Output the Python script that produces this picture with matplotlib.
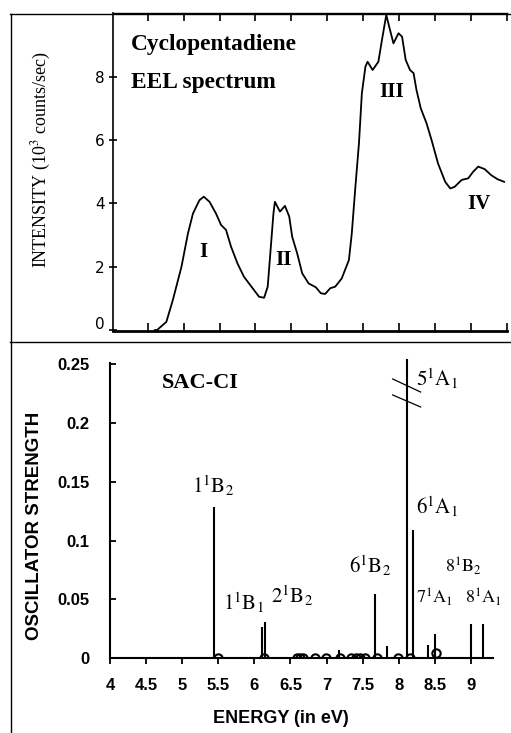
import numpy as np
import matplotlib.pyplot as plt
from matplotlib.lines import Line2D
from matplotlib.transforms import ScaledTranslation

plt.rcParams['mathtext.fontset'] = 'stix'

# %% data
# EEL spectrum (top panel)
eel_energy = [4.60, 4.63, 4.76, 4.85, 4.97, 5.06, 5.13, 5.22, 5.28, 5.36, 5.45, 5.52,
              5.59, 5.66, 5.75, 5.84, 5.96, 6.05, 6.12, 6.17, 6.21, 6.25, 6.27, 6.34,
              6.41, 6.47, 6.51, 6.58, 6.65, 6.74, 6.84, 6.91, 6.97, 7.04, 7.11, 7.20,
              7.30, 7.34, 7.39, 7.44, 7.48, 7.53, 7.56, 7.63, 7.71, 7.76, 7.82, 7.86,
              7.92, 7.99, 8.04, 8.09, 8.15, 8.20, 8.24, 8.30, 8.38, 8.45, 8.54, 8.64,
              8.71, 8.77, 8.87, 8.96, 9.03, 9.10, 9.19, 9.28, 9.37, 9.46]
eel_intensity = [0.0, 0.0, 0.26, 0.95, 2.0, 3.05, 3.68, 4.10, 4.21, 4.05, 3.68, 3.32,
                 3.16, 2.63, 2.10, 1.68, 1.32, 1.05, 1.02, 1.37, 2.53, 3.69, 4.05, 3.74,
                 3.92, 3.58, 2.95, 2.42, 1.79, 1.47, 1.35, 1.16, 1.14, 1.32, 1.37, 1.63,
                 2.21, 3.05, 4.52, 5.90, 7.47, 8.32, 8.47, 8.21, 8.47, 9.16, 9.95, 9.58,
                 9.05, 9.37, 9.26, 8.53, 8.21, 8.11, 7.58, 7.00, 6.53, 6.00, 5.26, 4.68,
                 4.47, 4.52, 4.74, 4.79, 5.00, 5.16, 5.08, 4.89, 4.76, 4.68]
band_names = ['I', 'II', 'III', 'IV']
band_pos = [(5.28, 2.46), (6.39, 2.21), (7.90, 7.52), (9.11, 3.98)]

# SAC-CI oscillator strengths (bottom panel)
stick_energy = [5.444, 6.107, 6.145, 7.173, 7.672, 7.842, 8.110, 8.202, 8.404, 8.507, 9.000, 9.171]
stick_f = [0.129, 0.0266, 0.0309, 0.0074, 0.0544, 0.0105, 0.2545, 0.109, 0.011, 0.0204, 0.029, 0.029]
forbidden_energy = [5.499, 6.131, 6.592, 6.638, 6.675, 6.846, 6.998, 7.192, 7.344, 7.404,
                    7.459, 7.528, 7.704, 7.989, 8.161, 8.520]
forbidden_f = [0, 0, 0, 0, 0, 0, 0, 0, 0, 0, 0, 0, 0, 0, 0, 0.0045]

state_labels = [r'$1^{1}\mathrm{B}_{2}$', r'$1^{1}\mathrm{B}_{1}$', r'$2^{1}\mathrm{B}_{2}$',
                r'$6^{1}\mathrm{B}_{2}$', r'$5^{1}\mathrm{A}_{1}$', r'$6^{1}\mathrm{A}_{1}$',
                r'$8^{1}\mathrm{B}_{2}$', r'$7^{1}\mathrm{A}_{1}$', r'$8^{1}\mathrm{A}_{1}$']
state_pos = [(5.425, 0.1466), (5.854, 0.047), (6.518, 0.053), (7.60, 0.0785), (8.53, 0.238),
             (8.53, 0.1287), (8.89, 0.078), (8.50, 0.0517), (9.17, 0.0517)]
state_size = [15, 15, 15, 15, 15, 15, 13, 13, 13]

# %% figure
W, H = 511, 733
fig = plt.figure(figsize=(W / 100, H / 100), dpi=100)

def box(l, t, r, b):
    return [l / W, 1 - b / H, (r - l) / W, (b - t) / H]

# outer frame lines of the scan
for xs, ys in [([10, 511], [14, 14]), ([10, 511], [342, 342]), ([11, 11], [14, 733])]:
    fig.add_artist(Line2D([x / W for x in xs], [1 - y / H for y in ys],
                          transform=fig.transFigure, color='k', lw=1.0))

# --- top: EEL spectrum
ax = fig.add_axes(box(113, 13.3, 507, 331))
ax.plot(eel_energy, eel_intensity, 'k-', lw=1.3)
ax.set_xlim(4.017, 9.47)
ax.set_ylim(-0.03, 10)
ax.spines['right'].set_visible(False)
ax.spines['bottom'].set_linewidth(2)
ax.spines['left'].set_linewidth(1.2)
ax.spines['top'].set_linewidth(1.0)
ax.set_xticks([5, 6, 7, 8, 9])
ax.set_xticks([4.5, 5.5, 6.5, 7.5, 8.5, 9.5], minor=True)
ax.tick_params(axis='x', which='both', direction='in', top=True, bottom=True,
               length=6, width=1.2, labelbottom=False)
ax.set_yticks([0, 2, 4, 6, 8])
ax.tick_params(axis='y', direction='inout', length=6, width=1.2, labelsize=11, pad=3)
ax.set_ylabel(r'INTENSITY (10$^{3}$ counts/sec)', family='Liberation Serif', fontsize=13)
ax.yaxis.set_label_coords(-0.152, 0.538)
ax.text(4.27, 9.0, 'Cyclopentadiene', family='Liberation Serif', weight='bold',
        fontsize=16.8, va='center')
ax.text(4.27, 7.8, 'EEL spectrum', family='Liberation Serif', weight='bold',
        fontsize=16.8, va='center')
for name, (x, y) in zip(band_names, band_pos):
    ax.text(x, y, name, family='Liberation Serif', weight='bold', fontsize=15,
            ha='center', va='center')

# --- bottom: SAC-CI sticks
bx = fig.add_axes(box(110, 358.4, 493.3, 658.3))
bx.vlines(stick_energy, 0, stick_f, color='k', lw=1.5)
bx.plot(forbidden_energy, forbidden_f, 'o', mfc='none', mec='k', ms=6, mew=1.5)
bx.set_xlim(4, 9.31)
bx.set_ylim(0, 0.255)
bx.spines['right'].set_visible(False)
bx.spines['top'].set_visible(False)
bx.spines['left'].set_bounds(0, 0.251)
bx.spines['left'].set_linewidth(1.5)
bx.spines['bottom'].set_linewidth(1.5)
bx.set_xticks(np.arange(4, 9.01, 0.5))
bx.set_xticklabels(['4', '4.5', '5', '5.5', '6', '6.5', '7', '7.5', '8', '8.5', '9'])
bx.set_yticks([0, 0.05, 0.1, 0.15, 0.2, 0.25])
bx.set_yticklabels(['0', '0.05', '0.1', '0.15', '0.2', '0.25'])
bx.tick_params(axis='x', direction='out', length=4, width=1.3, labelsize=12, pad=10)
bx.tick_params(axis='y', direction='in', length=4, width=1.3, labelsize=12, pad=14.5)
for lab in bx.get_xticklabels() + bx.get_yticklabels():
    lab.set_family('Liberation Sans')
    lab.set_weight('bold')
bx.set_xlabel('ENERGY (in eV)', family='Liberation Sans', weight='bold', fontsize=13)
bx.set_ylabel('OSCILLATOR STRENGTH', family='Liberation Sans', weight='bold', fontsize=13.5)
bx.xaxis.set_label_coords(0.445, -0.172)
bx.yaxis.set_label_coords(-0.175, 0.441)
bx.text(5.25, 0.234, 'SAC-CI', family='Liberation Serif', weight='bold', fontsize=16,
        ha='center', va='center')
for lab, (x, y), s in zip(state_labels, state_pos, state_size):
    bx.text(x, y, lab, fontsize=s, ha='center', va='center')
# break marks on the 5 1A1 line
for ys in [(0.2375, 0.2264), (0.2239, 0.2137)]:
    bx.plot([7.916, 8.303], ys, 'k-', lw=0.9, clip_on=False)

# the "0" label of the scan sits a little above its tick
lab0 = ax.get_yticklabels()[0]
lab0.set_transform(lab0.get_transform() + ScaledTranslation(0, 0.07, fig.dpi_scale_trans))

fig.savefig('out.png', dpi=100)
